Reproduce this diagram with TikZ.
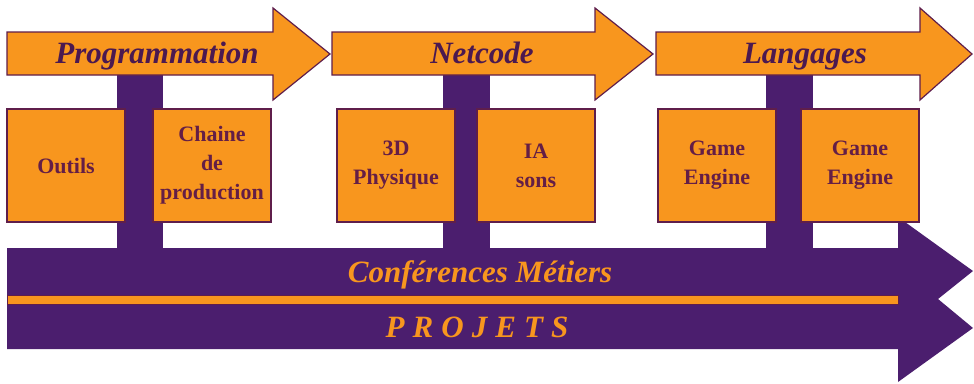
\documentclass[tikz,border=0pt]{standalone}
\usepackage{fontspec}
\setmainfont{Liberation Serif}
\definecolor{orng}{RGB}{248,150,30}
\definecolor{purp}{RGB}{75,30,110}
\definecolor{edgec}{RGB}{95,30,75}
\definecolor{ttl}{RGB}{75,25,80}
\definecolor{boxtxt}{RGB}{100,30,70}
\begin{document}
\begin{tikzpicture}[x=1pt,y=-1pt,
  arrowshape/.style={fill=orng,draw=edgec,line width=1.2pt,line join=miter},
  stem/.style={fill=purp},
  topic/.style={draw=edgec,fill=orng,line width=1.2pt,minimum width=118pt,minimum height=113pt,inner sep=0pt,text=boxtxt,font=\fontsize{22}{29}\selectfont\bfseries,align=center},
  title/.style={text=ttl,font=\fontsize{31}{34}\selectfont\bfseries\itshape,inner sep=0pt,anchor=base},
  bandtext/.style={text=orng,font=\fontsize{31}{34}\selectfont\bfseries\itshape,inner sep=0pt,anchor=base}]
\fill[white] (0,0) rectangle (974,383);
\useasboundingbox (0,0) rectangle (974,383);
% stems
\fill[stem] (117,70) rectangle (163,252);
\fill[stem] (443,70) rectangle (490,252);
\fill[stem] (766,70) rectangle (813,252);
% bottom band
\fill[purp] (7,248) -- (898,248) -- (898,217) -- (973,271) -- (938,299) -- (973,328) -- (898,382) -- (898,349) -- (7,349) -- cycle;
\fill[orng, draw=edgec, line width=0.6pt] (7,295) rectangle (898,304);
% top arrows
\draw[arrowshape] (7,32) -- (273,32) -- (273,8) -- (330,54) -- (273,100) -- (273,75) -- (7,75) -- cycle;
\draw[arrowshape] (332,32) -- (595,32) -- (595,8) -- (653,54) -- (595,100) -- (595,75) -- (332,75) -- cycle;
\draw[arrowshape] (656,32) -- (920,32) -- (920,8) -- (972,54) -- (920,100) -- (920,75) -- (656,75) -- cycle;
% titles
\node[title] (t1) at (157,63) {Programmation};
\node[title] (t2) at (482,63) {Netcode};
\node[title] (t3) at (805,63) {Langages};
% boxes
\node[topic] (b1) at (66,165.5) {Outils};
\node[topic] (b2) at (212,165.5) {Chaine\\de\\production};
\node[topic] (b3) at (396,165.5) {3D\\Physique};
\node[topic] (b4) at (536,165.5) {IA\\sons};
\node[topic] (b5) at (717,165.5) {Game\\Engine};
\node[topic] (b6) at (860,165.5) {Game\\Engine};
% band texts
\node[bandtext] (c) at (480,282) {Conférences Métiers};
\node[bandtext] (p) at (477,337) {\addfontfeature{LetterSpace=26}PROJETS};
\end{tikzpicture}
\end{document}
